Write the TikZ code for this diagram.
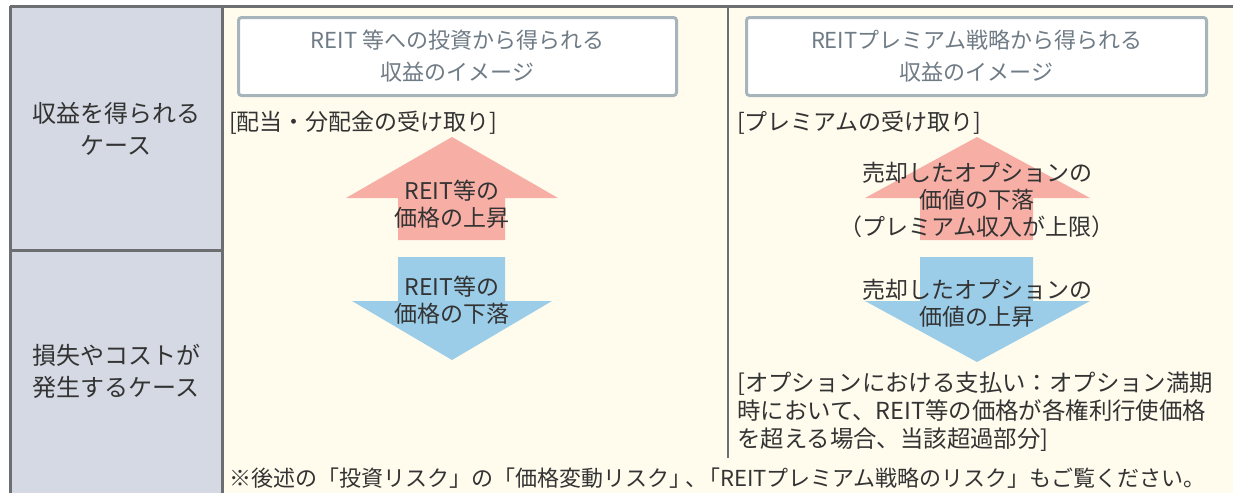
\documentclass[tikz,border=0pt]{standalone}
\usepackage{fontspec}
\setmainfont{Noto Sans CJK JP}
\usepackage{tikz}
\definecolor{cream}{HTML}{FFFCEE}
\definecolor{sidegray}{HTML}{D4D9E3}
\definecolor{rulegray}{HTML}{6D6E71}
\definecolor{hdrline}{HTML}{A8B4BC}
\definecolor{hdrtxt}{HTML}{6F7B85}
\definecolor{txtc}{HTML}{333333}
\definecolor{uparr}{HTML}{F7AFA5}
\definecolor{dnarr}{HTML}{9BCDE8}
\tikzstyle{hdr}=[draw=hdrline, line width=3pt, fill=white, rounded corners=3pt, minimum height=78pt, text=hdrtxt, align=center, font=\fontsize{22}{32}\selectfont]
\tikzstyle{txt}=[text=txtc, align=center, inner sep=0pt]
\tikzstyle{txtl}=[text=txtc, align=left, inner sep=0pt, anchor=west]
\tikzstyle{rule}=[draw=rulegray, line width=3pt]
\newcommand{\hdrbox}{\node[hdr]}
\newcommand{\txtnode}{\node[txt]}

\begin{document}
\begin{tikzpicture}[x=1pt, y=-1pt, font=\fontsize{23}{27}\selectfont]
\useasboundingbox (0,0) rectangle (1233,493);
% background
\fill[cream] (10,6) rectangle (1233,493);
\fill[sidegray] (10,6) rectangle (222,493);
\draw[rule] (10,6) -- (1233,6);
\draw[rule] (10,6) -- (10,493);
\draw[rule] (222,6) -- (222,493);
\draw[rule] (10,250) -- (222,250);
\draw[rule, line width=2pt] (728,6) -- (728,458);

% row labels
\txtnode[font=\fontsize{24}{32}\selectfont] (gain) at (116,129) {収益を得られる\\ケース};
\txtnode[font=\fontsize{24}{32}\selectfont] (loss) at (116,371) {損失やコストが\\発生するケース};

% column heads
\hdrbox[minimum width=438pt] (headA) at (457.5,56.5) {REIT 等への投資から得られる\\収益のイメージ};
\hdrbox[minimum width=460pt] (headB) at (976.5,56.5) {REITプレミアム戦略から得られる\\収益のイメージ};

\node[txtl] (divA) at (229,123) {[配当・分配金の受け取り]};
\node[txtl] (premB) at (737,123) {[プレミアムの受け取り]};

% arrows
\fill[uparr] (452,137) -- (558,198) -- (505,198) -- (505,240) -- (398,240) -- (398,198) -- (346,198) -- cycle;
\fill[dnarr] (398,257) -- (505,257) -- (505,301) -- (552,301) -- (452,360) -- (352,301) -- (398,301) -- cycle;
\fill[uparr] (977,137) -- (1090,198) -- (1033,198) -- (1033,240) -- (920,240) -- (920,198) -- (865,198) -- cycle;
\fill[dnarr] (920,257) -- (1033,257) -- (1033,301) -- (1090,301) -- (977,362) -- (865,301) -- (920,301) -- cycle;

\txtnode (riseA) at (452,204) {REIT等の\\価格の上昇};
\txtnode (fallA) at (452,300) {REIT等の\\価格の下落};
\txtnode (riseB) at (977,200) {売却したオプションの\\価値の下落\\（プレミアム収入が上限）};
\txtnode (fallB) at (977,303) {売却したオプションの\\価値の上昇};

\node[txtl, font=\fontsize{23.4}{28}\selectfont] (payB) at (737,412) {[オプションにおける支払い：オプション満期\\時において、REIT等の価格が各権利行使価格\\を超える場合、当該超過部分]};
\node[txtl, font=\fontsize{22}{27}\selectfont] (note) at (229,478) {※後述の「投資リスク」の「価格変動リスク」\kern-6pt、\kern-9pt「REITプレミアム戦略のリスク」もご覧ください。};
\end{tikzpicture}
\end{document}
